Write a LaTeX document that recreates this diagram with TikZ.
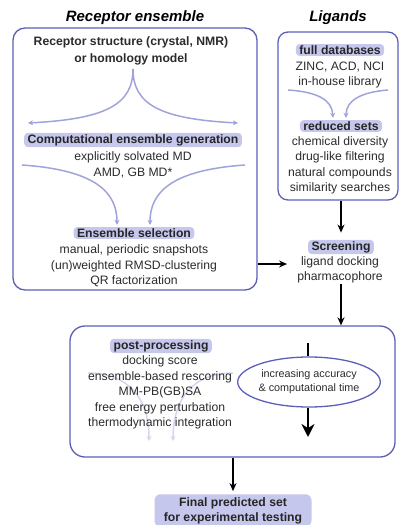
\documentclass[tikz,border=0pt]{standalone}
\usepackage{fontspec}
\setmainfont{Liberation Sans}
\usetikzlibrary{shapes.geometric, arrows.meta, positioning, backgrounds, calc}
\definecolor{frameblue}{HTML}{5B5FB8}
\definecolor{hlfill}{HTML}{C6C7EC}
\definecolor{flowlav}{HTML}{A0A3DA}
\definecolor{faintlav}{HTML}{D4D6F0}
\definecolor{txtgray}{HTML}{2B2B2B}

\begin{document}
\begin{tikzpicture}[
    x=1pt, y=-1pt,
    font=\fontsize{12.2}{15.5}\selectfont,
    panel/.style={draw=frameblue, line width=1.3pt, rounded corners=12pt, inner sep=0pt},
    hdr/.style={fill=hlfill, rounded corners=4pt, inner xsep=3.5pt, inner ysep=1.5pt,
                font=\fontsize{12.2}{14}\selectfont\bfseries, text=black!85},
    txt/.style={align=center, inner sep=0pt, text=txtgray},
    title/.style={font=\fontsize{15}{17}\selectfont\bfseries\itshape},
    arr/.style={-{Stealth[length=8pt, width=7pt]}, line width=1.4pt},
    bigarr/.style={-{Stealth[length=13pt, width=13pt]}, line width=2.6pt},
    larr/.style={-{Stealth[length=5pt, width=5pt]}, line width=1.5pt, flowlav},
    farr/.style={-{Stealth[length=5pt, width=5pt]}, line width=1.5pt, faintlav},
]
\useasboundingbox (0,0) rectangle (401,525);

% === Titles ===
\node[title] (recTitle) at (135,18) {Receptor ensemble};
\node[title] (ligTitle) at (338,18) {Ligands};

% === Panels ===
\node[panel, minimum width=244pt, minimum height=262pt] (recBox) at (135,159) {};
\node[panel, rounded corners=10pt, minimum width=120pt, minimum height=168pt] (ligBox) at (338,116) {};
\node[panel, rounded corners=15pt, minimum width=325pt, minimum height=131pt] (postBox) at (232.5,391.5) {};

% === Receptor ensemble ===
\node[txt, font=\fontsize{12.2}{16.5}\selectfont\bfseries] (recStruct) at (131,51)
    {Receptor structure (crystal, NMR)\\or homology model};
\coordinate (apex) at (133,69);
\coordinate (genL) at (28,123);
\coordinate (genR) at (238,123);

\node[hdr] (gen) at (133,140) {Computational ensemble generation};
\node[txt] (genTxt) at (133,165) {explicitly solvated MD\\AMD, GB MD*};
\coordinate (genOutL) at (22,165);
\coordinate (genOutR) at (245,165);

\node[hdr] (sel) at (134,233) {Ensemble selection};
\node[txt] (selTxt) at (134,266) {manual, periodic snapshots\\(un)weighted RMSD-clustering\\QR factorization};

\draw[larr] (apex) .. controls (133,105) and (105,119) .. (genL);
\draw[larr] (apex) .. controls (133,105) and (161,119) .. (genR);
\draw[larr] (genOutL) .. controls (95,170) and (117,192) .. ([xshift=-17pt,yshift=2pt]sel.north);
\draw[larr] (genOutR) .. controls (172,170) and (150,192) .. ([xshift=16pt,yshift=2pt]sel.north);

% === Ligands ===
\node[hdr] (fullDb) at (340,50) {full databases};
\node[txt] (fullTxt) at (340,75) {ZINC, ACD, NCI\\in-house library};
\coordinate (fullOutL) at (288,90);
\coordinate (fullOutR) at (388,90);

\node[hdr] (redSets) at (341,126) {reduced sets};
\node[txt] (redTxt) at (340,165.5) {chemical diversity\\drug-like filtering\\natural compounds\\similarity searches};

\draw[larr] (fullOutL) .. controls (318,92) and (332,100) .. ([xshift=-8pt,yshift=2pt]redSets.north);
\draw[larr] (fullOutR) .. controls (362,92) and (346,100) .. ([xshift=5pt,yshift=2pt]redSets.north);

% === Screening ===
\node[hdr] (scr) at (341,247) {Screening};
\node[txt] (scrTxt) at (340,270) {ligand docking\\pharmacophore};
\coordinate (scrIn) at ([xshift=-10pt,yshift=6pt]scrTxt.west);

\draw[arr] (ligBox.south -| scr.north) -- ([yshift=7pt]scr.north);
\draw[arr] (recBox.east |- scrIn) -- (scrIn);
\draw[arr] (scrTxt.south -| scr.north) -- (postBox.north -| scr.north);

% === Post-processing ===
\node[hdr] (post) at (161,346) {post-processing};
\node[txt] (postTxt) at (160,392.5) {docking score\\ensemble-based rescoring\\MM-PB(GB)SA\\free energy perturbation\\thermodynamic integration};
\coordinate (postOutL) at (88,373);
\coordinate (postOutR) at (233,373);
\coordinate (postInL) at (149,441);
\coordinate (postInR) at (173,441);
\begin{scope}[on background layer]
\draw[farr] (postOutL) .. controls (130,373) and (149,400) .. (postInL);
\draw[farr] (postOutR) .. controls (192,373) and (173,400) .. (postInR);
\end{scope}

\node[ellipse, draw=frameblue, line width=1.3pt, minimum width=122pt, minimum height=50pt, inner sep=0pt,
      align=center, font=\fontsize{10.8}{14}\selectfont, text=txtgray] (accEll) at (309,382)
      {increasing accuracy\\\& computational time};
\coordinate (accTop) at (308,343);
\coordinate (accTip) at (308,437);
\draw[line width=2.6pt] (accTop) -- (accEll.north -| accTop);
\draw[bigarr] (accEll.south -| accTop) -- (accTip);

% === Final set ===
\node[hdr, align=center, font=\fontsize{12.2}{15}\selectfont\bfseries, inner ysep=3pt, rounded corners=6pt,
      minimum width=157pt] (final) at (233,510.5) {Final predicted set\\for experimental testing};
\draw[arr] (postBox.south -| final.north) -- ([yshift=3pt]final.north);

\end{tikzpicture}
\end{document}
